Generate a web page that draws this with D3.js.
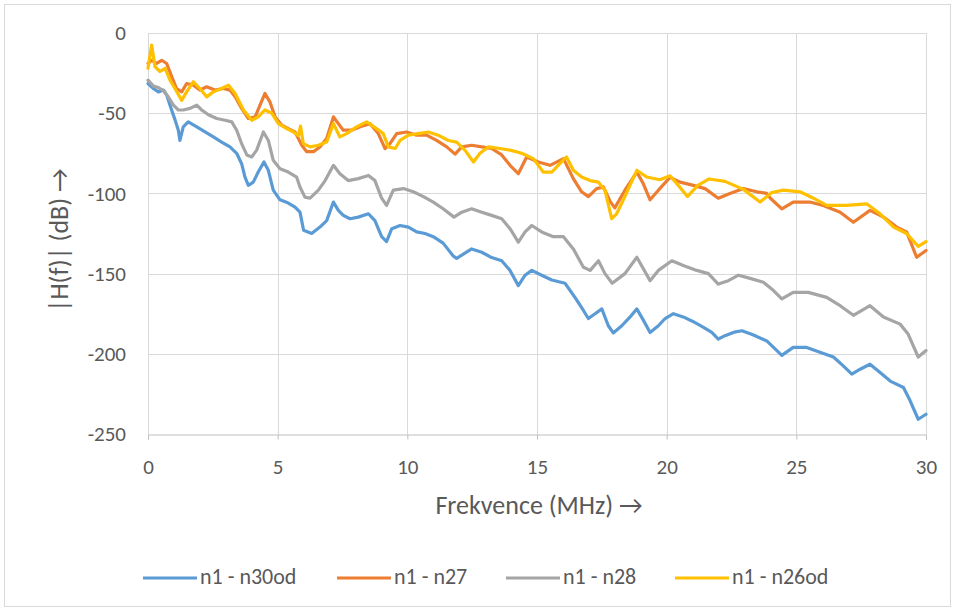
<!DOCTYPE html>
<html><head><meta charset="utf-8">
<script src="https://cdn.jsdelivr.net/npm/d3@7"></script>
<style>body{margin:0;background:#fff}svg{display:block}</style>
</head><body>
<svg id="c" width="956" height="611"></svg>
<script>
const seriesNames = ["n1 - n30od","n1 - n27","n1 - n28","n1 - n26od"];
const colors = ["#5B9BD5","#ED7D31","#A5A5A5","#FFC000"];
const xTicks = [0,5,10,15,20,25,30];
const yTicks = [0,-50,-100,-150,-200,-250];

const n30odF = [0,0.2,0.4,0.6,0.72,0.91,1.04,1.17,1.23,1.36,1.55,1.88,2.2,2.52,2.84,3.16,3.42,3.61,3.74,3.87,4.06,4.25,4.47,4.64,4.83,5.09,5.41,5.67,5.86,6.0,6.31,6.63,6.89,7.15,7.34,7.53,7.79,8.11,8.5,8.75,9.01,9.2,9.4,9.72,10.04,10.36,10.68,11.0,11.38,11.77,11.9,12.48,12.87,13.25,13.64,13.96,14.28,14.54,14.8,15.18,15.57,16.08,16.47,16.79,16.98,17.24,17.5,17.75,17.94,18.27,18.59,18.85,19.1,19.36,19.68,19.94,20.26,20.64,21.03,21.42,21.74,21.99,22.25,22.6,22.9,23.3,23.86,24.44,24.88,25.4,25.91,26.43,26.81,27.14,27.46,27.84,28.23,28.62,29.13,29.38,29.7,30];
const n30odDb = [-31.5,-34.5,-36.7,-35.6,-38.7,-48,-54,-60.6,-67,-58.5,-55.4,-58.5,-61.7,-64.8,-68,-71,-75,-81.5,-89.8,-95,-93,-86.7,-80.4,-85.6,-98,-104,-106,-108.5,-111.7,-123,-125,-121,-117,-105.4,-110.6,-113.7,-115.8,-114.8,-112.7,-117,-127,-130,-122,-120,-121,-124,-125,-127,-131,-139,-140.5,-134.6,-136.7,-140,-142,-148,-157.5,-151,-148,-151,-154,-156,-165,-173,-178,-175,-172,-182.5,-187,-182.5,-177,-172,-179,-186.7,-182.5,-178,-175,-177,-180,-183.5,-186.7,-190.8,-188.7,-186.5,-185.6,-188,-192,-201,-196,-196,-199,-202,-207.5,-212.7,-209.6,-206.5,-211.7,-217,-221,-229,-240.8,-237.7];

const n27F = [0,0.14,0.33,0.53,0.72,0.91,1.1,1.3,1.49,1.75,2.0,2.26,2.58,2.9,3.16,3.36,3.61,3.87,4.13,4.32,4.51,4.7,4.9,5.16,5.41,5.67,5.93,6.12,6.38,6.63,6.89,7.15,7.34,7.53,7.85,8.18,8.56,8.88,9.14,9.33,9.59,9.97,10.36,10.74,11.13,11.52,11.84,12.1,12.48,12.87,13.25,13.64,13.96,14.28,14.6,15.05,15.5,16.02,16.4,16.72,16.98,17.3,17.56,17.82,18.0,18.39,18.85,19.1,19.36,19.68,20.13,20.52,21.03,21.48,21.99,22.44,22.96,23.47,23.86,24.0,24.44,24.88,25.52,26.04,26.69,27.2,27.84,28.36,28.87,29.25,29.64,30];
const n27Db = [-19,-17,-19,-17,-19,-27,-34.6,-36.7,-31.5,-32.5,-35.6,-33.5,-35.6,-34.6,-35.6,-39.8,-47,-53.3,-52.3,-45,-37.7,-42.9,-52.3,-57.5,-59.6,-61.7,-70,-74,-74,-71,-65.8,-52.3,-56.5,-60.6,-60.6,-58.5,-56.5,-62.7,-72,-69,-62.7,-61.7,-63.7,-63.7,-66.9,-71,-75.5,-71,-70,-71,-72,-76,-82.5,-87.7,-77.3,-80.4,-82.5,-78.3,-90.8,-99,-102,-97,-96,-105,-109,-98,-86.7,-94,-104,-98,-90,-93,-95,-97,-103,-100,-97,-99,-100,-103,-109.6,-105.4,-105.4,-107.5,-111.7,-118,-110.6,-114.8,-121,-124,-139.8,-135.6];

const n28F = [0,0.2,0.4,0.6,0.78,0.98,1.17,1.36,1.62,1.88,2.07,2.33,2.65,2.97,3.23,3.42,3.61,3.81,4.0,4.19,4.45,4.64,4.83,5.09,5.41,5.73,5.86,6.05,6.25,6.57,6.83,7.15,7.4,7.72,8.11,8.5,8.75,9.01,9.2,9.46,9.85,10.23,10.62,11.0,11.38,11.8,12.1,12.48,12.87,13.25,13.64,13.96,14.28,14.54,14.8,15.18,15.63,16.02,16.4,16.79,17.05,17.37,17.62,17.9,18.39,18.85,19.1,19.36,19.68,20.2,20.64,21.16,21.61,21.99,22.38,22.77,23.22,23.73,24.12,24.44,24.88,25.46,26.17,26.69,27.2,27.84,28.36,29.0,29.31,29.7,30];
const n28Db = [-29.4,-33,-34,-36,-39.8,-45,-48,-48,-47,-45,-48,-51,-53.3,-54.4,-55.4,-60.6,-69,-76,-77.3,-73,-61.7,-67,-79.4,-84.6,-86.7,-89.8,-96,-102.3,-103,-98,-92,-82.5,-87.7,-92,-90.8,-88.8,-92,-103,-107.5,-98,-97,-99,-102,-105.4,-109.6,-114.8,-111.7,-109.6,-111.7,-113.7,-115.8,-122,-130.4,-124,-120,-124,-127,-127,-134.6,-146,-148,-142,-150,-156,-150,-139.8,-147,-154.4,-148,-142,-145,-148,-150,-156.5,-154.4,-151,-153,-155.4,-160.6,-165.8,-161.7,-161.7,-164.8,-170,-176,-170,-177,-181.5,-187.7,-202,-198];

const n26odF = [0,0.14,0.27,0.46,0.66,0.85,1.04,1.3,1.49,1.75,2.0,2.26,2.52,2.84,3.1,3.36,3.68,4.0,4.25,4.51,4.77,5.03,5.35,5.61,5.8,5.88,5.99,6.25,6.57,6.89,7.15,7.4,7.66,8.04,8.43,8.81,9.07,9.27,9.53,9.72,10.04,10.42,10.81,11.19,11.58,11.9,12.22,12.55,12.8,13.13,13.57,13.96,14.41,14.86,15.24,15.57,15.88,16.14,16.4,16.72,17.05,17.37,17.62,17.88,18.07,18.33,18.85,19.23,19.74,20.13,20.45,20.8,21.2,21.64,22.25,22.96,23.6,24.05,24.5,25.14,25.66,26.17,26.94,27.71,28.23,28.75,29.25,29.7,30];
const n26odDb = [-22,-7.5,-21,-24,-22,-29.4,-34.6,-42,-36.7,-30.4,-34.6,-39.8,-36.7,-34.6,-32.5,-37.7,-48,-54.4,-52.3,-48,-50,-56.5,-59.6,-61.7,-64,-58,-69,-71,-70,-68,-56.5,-64.8,-62.7,-58.5,-55.4,-59.6,-62.7,-71,-72,-67,-63.7,-62.7,-61.7,-63.7,-67,-68,-73,-80.4,-75,-71,-72,-73,-75,-78.3,-86.7,-86.7,-81.5,-77.3,-85.6,-89.8,-92,-93,-98,-115.8,-112.7,-104,-85.6,-89.8,-91.5,-89,-95,-102,-95,-91,-92.5,-97.5,-105.4,-99.5,-98,-99,-103,-107.5,-107.5,-106.5,-112.7,-121,-125,-133,-130];

const seriesF = [n30odF, n27F, n28F, n26odF];
const seriesDb = [n30odDb, n27Db, n28Db, n26odDb];

const svg = d3.select("#c");
const font = "Carlito, 'Liberation Sans Narrow', 'Liberation Sans', sans-serif";
const textCol = "#595959";

svg.append("rect").attr("x",4.5).attr("y",4.5).attr("width",946).attr("height",602)
  .attr("fill","#fff").attr("stroke","#D9D9D9");

const x = d3.scaleLinear().domain([0,30]).range([148,926]);
const y = d3.scaleLinear().domain([-250,0]).range([434,33]);

// gridlines
svg.append("g").selectAll("line").data(yTicks.filter(d=>d!==-250)).join("line")
  .attr("x1",x(0)).attr("x2",x(30)).attr("y1",d=>Math.round(y(d))+0.5).attr("y2",d=>Math.round(y(d))+0.5)
  .attr("stroke","#D9D9D9").attr("stroke-width",1);
svg.append("g").selectAll("line").data(xTicks).join("line")
  .attr("x1",d=>Math.round(x(d))+0.5).attr("x2",d=>Math.round(x(d))+0.5).attr("y1",y(0)).attr("y2",y(-250))
  .attr("stroke","#D9D9D9").attr("stroke-width",1);

// x axis
const xAxis = d3.axisBottom(x).tickValues(xTicks).tickSize(5).tickPadding(20).tickFormat(d=>String(d));
const gx = svg.append("g").attr("transform",`translate(0,${Math.round(y(-250))+0.5})`).call(xAxis);
gx.select(".domain").attr("stroke","#BFBFBF");
gx.selectAll(".tick line").attr("stroke","#BFBFBF");
gx.selectAll("text").attr("fill",textCol).style("font-family",font).style("font-size","21px");

// y axis labels
const yAxis = d3.axisLeft(y).tickValues(yTicks).tickSize(0).tickPadding(22).tickFormat(d=>String(d));
const gy = svg.append("g").attr("transform",`translate(${x(0)},0)`).call(yAxis);
gy.select(".domain").remove();
gy.selectAll("text").attr("fill",textCol).style("font-family",font).style("font-size","21px");

// lines
const line = d3.line().x(d=>x(d[0])).y(d=>y(d[1]));
[0,1,2,3].forEach(i=>{
  const pts = seriesF[i].map((f,j)=>[f, seriesDb[i][j]]);
  svg.append("path").datum(pts).attr("d",line).attr("fill","none")
    .attr("stroke",colors[i]).attr("stroke-width",3.2).attr("stroke-linejoin","round").attr("stroke-linecap","round");
});

// axis titles
svg.append("text").attr("x",539).attr("y",514).attr("text-anchor","middle")
  .attr("fill",textCol).style("font-family",font).style("font-size","26px").text("Frekvence (MHz) \u2192");
svg.append("text").attr("transform","translate(68,240) rotate(-90)").attr("text-anchor","middle")
  .attr("fill",textCol).style("font-family",font).style("font-size","26px").text("|H(f)| (dB) \u2192");

// legend
const legX = [143,337,506,675];
seriesNames.forEach((n,i)=>{
  const g = svg.append("g").attr("transform",`translate(${legX[i]},578)`);
  g.append("line").attr("x1",0).attr("x2",54).attr("y1",0).attr("y2",0).attr("stroke",colors[i]).attr("stroke-width",3.2);
  g.append("text").attr("x",57).attr("y",6).attr("fill",textCol).style("font-family",font).style("font-size","22px").text(n);
});
</script>
</body></html>
